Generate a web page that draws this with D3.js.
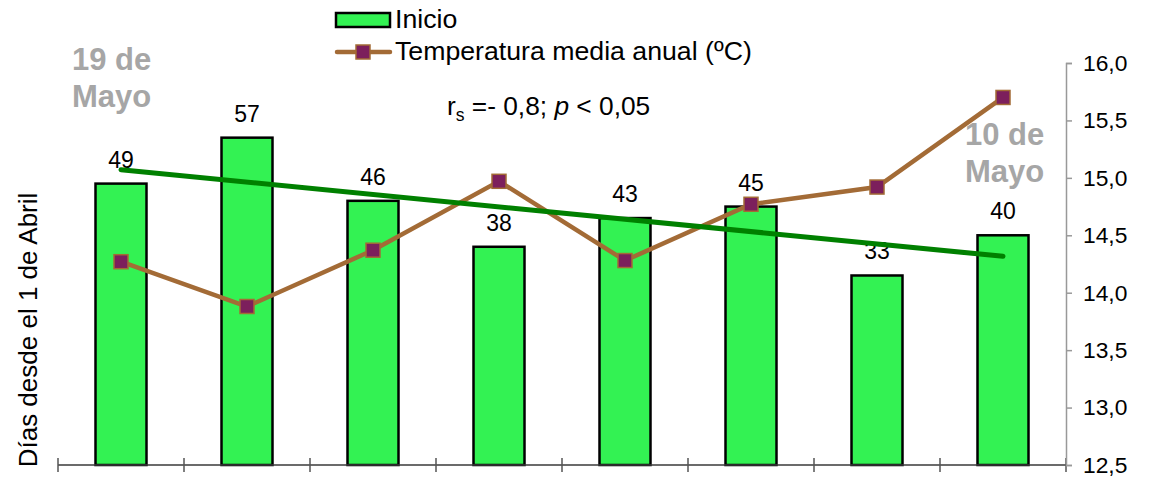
<!DOCTYPE html>
<html>
<head>
<meta charset="utf-8">
<script src="https://cdn.jsdelivr.net/npm/d3@7"></script>
<style>
  html, body { margin: 0; padding: 0; background: #fff; }
  svg { display: block; font-family: "Liberation Sans", Arial, sans-serif; }
</style>
</head>
<body>
<svg id="chart" width="1150" height="479"></svg>
<script>
// Years / periods (unlabelled on the axis)
const categories = ["1", "2", "3", "4", "5", "6", "7", "8"];
// Days from 1 April to the start ("Inicio")
const inicio = [49, 57, 46, 38, 43, 45, 33, 40];
// Mean annual temperature (ºC)
const temperatura = [14.27, 13.88, 14.37, 14.97, 14.28, 14.77, 14.92, 15.70];
// Right axis tick values
const tempTicks = [12.5, 13.0, 13.5, 14.0, 14.5, 15.0, 15.5, 16.0];

const svg = d3.select("#chart");

const plot = { left: 58, right: 1066, top: 63, bottom: 465 };

const x = d3.scaleBand().domain(categories).range([plot.left, plot.right]).paddingInner(0).paddingOuter(0);
const yDays = d3.scaleLinear().domain([0, 70]).range([plot.bottom, plot.top]);
const yTemp = d3.scaleLinear().domain([12.5, 16.0]).range([plot.bottom, plot.top]);

const barW = 51;
const cx = c => x(c) + x.bandwidth() / 2;

// Bars
svg.append("g").selectAll("rect").data(inicio).join("rect")
  .attr("x", (d, i) => cx(categories[i]) - barW / 2)
  .attr("y", d => yDays(d))
  .attr("width", barW)
  .attr("height", d => yDays(0) - yDays(d))
  .attr("fill", "#33f253")
  .attr("stroke", "#000")
  .attr("stroke-width", 2.5);

// Value labels above the bars
svg.append("g").selectAll("text").data(inicio).join("text")
  .attr("x", (d, i) => cx(categories[i]))
  .attr("y", d => yDays(d) - 16)
  .attr("text-anchor", "middle")
  .attr("font-size", 23)
  .attr("fill", "#000")
  .text(d => d);

// X axis: baseline with ticks between categories
const xAxis = svg.append("g");
xAxis.append("line")
  .attr("x1", plot.left).attr("x2", plot.right)
  .attr("y1", plot.bottom).attr("y2", plot.bottom)
  .attr("stroke", "#3a3a3a").attr("stroke-width", 1.5);
const bounds = categories.map(c => x(c)).concat([plot.right]);
xAxis.selectAll("line.tick").data(bounds).join("line")
  .attr("class", "tick")
  .attr("x1", d => d).attr("x2", d => d)
  .attr("y1", plot.bottom - 7).attr("y2", plot.bottom + 7)
  .attr("stroke", "#555").attr("stroke-width", 1.5);

// Right axis (temperature)
const rAxis = d3.axisRight(yTemp)
  .tickValues(tempTicks)
  .tickSize(6)
  .tickPadding(11)
  .tickFormat(d => d3.format(".1f")(d).replace(".", ","));
const rg = svg.append("g")
  .attr("transform", `translate(${plot.right},0)`)
  .call(rAxis);
rg.select(".domain").attr("stroke", "#999").attr("stroke-width", 1.5);
rg.selectAll(".tick line").attr("stroke", "#999").attr("stroke-width", 1.5);
rg.selectAll(".tick text")
  .attr("font-size", 22.8)
  .attr("font-family", "Liberation Sans, Arial, sans-serif")
  .attr("fill", "#000");

// Temperature line
const line = d3.line()
  .x((d, i) => cx(categories[i]))
  .y(d => yTemp(d));
svg.append("path")
  .datum(temperatura)
  .attr("d", line)
  .attr("fill", "none")
  .attr("stroke", "#a36b36")
  .attr("stroke-width", 4.5);

// Least-squares trend line of the start days
const n = inicio.length;
const xs = inicio.map((d, i) => i + 1);
const mx = d3.mean(xs), my = d3.mean(inicio);
const slope = d3.sum(xs, (v, i) => (v - mx) * (inicio[i] - my)) / d3.sum(xs, v => (v - mx) ** 2);
const intercept = my - slope * mx;
const trend = [1, n].map(v => ({ c: categories[v - 1], v: intercept + slope * v }));
svg.append("path")
  .datum(trend)
  .attr("d", d3.line().x(d => cx(d.c)).y(d => yDays(d.v)))
  .attr("fill", "none")
  .attr("stroke", "#008000")
  .attr("stroke-width", 5)
  .attr("stroke-linecap", "round");

// Square markers on the temperature line
const mk = 14;
svg.append("g").selectAll("rect").data(temperatura).join("rect")
  .attr("x", (d, i) => cx(categories[i]) - mk / 2)
  .attr("y", d => yTemp(d) - mk / 2)
  .attr("width", mk).attr("height", mk)
  .attr("fill", "#7c1f5c")
  .attr("stroke", "#a36b36")
  .attr("stroke-width", 1.5);

// Left axis title
svg.append("text")
  .attr("transform", "translate(37,330) rotate(-90)")
  .attr("text-anchor", "middle")
  .attr("font-size", 26)
  .attr("fill", "#000")
  .text("Días desde el 1 de Abril");

// Legend
const lg = svg.append("g");
lg.append("rect")
  .attr("x", 336).attr("y", 13).attr("width", 54).attr("height", 14)
  .attr("fill", "#33f253").attr("stroke", "#000").attr("stroke-width", 2.5);
lg.append("text").attr("x", 395).attr("y", 28).attr("font-size", 26.7).attr("fill", "#000").text("Inicio");
lg.append("line")
  .attr("x1", 337).attr("x2", 390).attr("y1", 52).attr("y2", 52)
  .attr("stroke", "#a36b36").attr("stroke-width", 4.5).attr("stroke-linecap", "round");
lg.append("rect")
  .attr("x", 363 - mk / 2).attr("y", 52 - mk / 2).attr("width", mk).attr("height", mk)
  .attr("fill", "#7c1f5c").attr("stroke", "#a36b36").attr("stroke-width", 1.5);
lg.append("text").attr("x", 395).attr("y", 60).attr("font-size", 26.7).attr("fill", "#000")
  .text("Temperatura media anual (ºC)");

// Correlation note
const note = svg.append("text").attr("x", 447).attr("y", 115).attr("font-size", 26.3).attr("fill", "#000");
note.append("tspan").text("r");
note.append("tspan").attr("font-size", 17.5).attr("dy", 6).text("s");
note.append("tspan").attr("dy", -6).text(" =- 0,8; ");
note.append("tspan").attr("font-style", "italic").text("p");
note.append("tspan").text(" < 0,05");

// Date annotations
const dates = [
  { x: 72, lines: ["19 de", "Mayo"], y: 70 },
  { x: 965, lines: ["10 de", "Mayo"], y: 145 }
];
dates.forEach(dt => {
  const t = svg.append("text")
    .attr("x", dt.x).attr("y", dt.y)
    .attr("font-size", 31).attr("font-weight", "bold").attr("fill", "#a6a6a6");
  dt.lines.forEach((l, i) => t.append("tspan").attr("x", dt.x).attr("dy", i === 0 ? 0 : 37).text(l));
});
</script>
</body>
</html>
